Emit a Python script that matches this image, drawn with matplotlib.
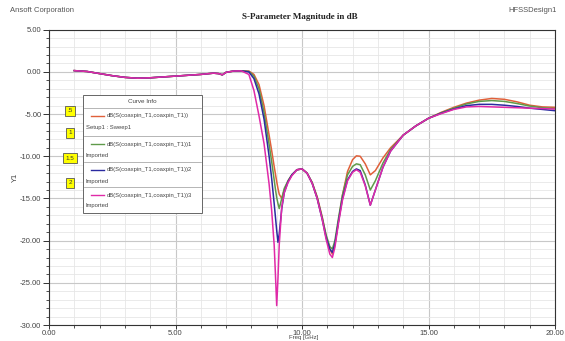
import matplotlib
matplotlib.use("Agg")
import matplotlib.pyplot as plt
from matplotlib.patches import Rectangle
from matplotlib.lines import Line2D
from matplotlib.ticker import MultipleLocator, FormatStrFormatter

plt.rcParams['font.family'] = ['Liberation Sans Narrow', 'Liberation Sans', 'DejaVu Sans']

# ---------------- data ----------------
freq_low = [1.0, 1.5, 2.0, 2.5, 3.0, 3.5, 4.0, 4.5, 5.0, 5.5, 6.0, 6.5, 6.7, 6.85, 7.0, 7.3, 7.6]
db_low = [0.15, 0.05, -0.2, -0.45, -0.65, -0.75, -0.7, -0.6, -0.5, -0.4, -0.3, -0.15, -0.2, -0.35, -0.05, 0.1, 0.12]

freq_high = [7.9, 8.1, 8.3, 8.5, 8.7, 8.8, 8.9, 8.95, 9.0, 9.05, 9.1, 9.2, 9.3, 9.45, 9.6, 9.8,
             10.0, 10.2, 10.4, 10.6, 10.8, 10.95, 11.1, 11.2, 11.3, 11.45, 11.6, 11.8, 12.0,
             12.15, 12.3, 12.5, 12.7, 12.9, 13.2, 13.5, 14.0, 14.5, 15.0, 15.5, 16.0, 16.5,
             17.0, 17.5, 18.0, 18.5, 19.0, 19.5, 20.0]

s_sweep = [0.1, -0.3, -1.5, -4.0, -7.5, -9.3, -11.2, -12.1, -13.0, -13.8, -14.5, -15.0, -14.0,
           -12.9, -12.2, -11.6, -11.5, -12.0, -13.1, -14.8, -17.2, -19.4, -21.0, -21.6, -20.5,
           -17.5, -14.6, -11.8, -10.4, -9.95, -10.0, -10.9, -12.2, -11.7, -10.2, -9.0, -7.5,
           -6.4, -5.5, -4.8, -4.2, -3.7, -3.35, -3.15, -3.25, -3.55, -3.95, -4.15, -4.2]
s_imp1 = [0.05, -0.5, -2.0, -4.8, -8.6, -10.6, -12.8, -13.9, -14.9, -15.6, -16.2, -15.0, -13.8,
          -12.9, -12.2, -11.6, -11.5, -12.0, -13.1, -14.9, -17.3, -19.3, -20.7, -21.0, -20.0,
          -17.2, -14.6, -12.2, -11.2, -10.9, -11.0, -12.2, -14.0, -12.9, -10.8, -9.2, -7.5,
          -6.4, -5.5, -4.85, -4.3, -3.8, -3.5, -3.4, -3.5, -3.75, -4.05, -4.25, -4.35]
s_imp2 = [0.0, -0.8, -2.6, -5.6, -10.0, -12.6, -15.6, -17.2, -18.8, -20.2, -19.2, -16.2, -14.3,
          -13.0, -12.2, -11.6, -11.5, -12.0, -13.2, -15.0, -17.5, -19.6, -21.0, -21.4, -20.4,
          -17.6, -15.0, -12.8, -11.8, -11.5, -11.7, -13.4, -15.8, -14.0, -11.3, -9.4, -7.5,
          -6.4, -5.5, -4.9, -4.4, -4.0, -3.85, -3.85, -3.95, -4.1, -4.3, -4.45, -4.6]
s_imp3 = [-0.3, -2.2, -5.2, -8.5, -13.3, -16.4, -20.5, -24.0, -27.7, -24.5, -20.5, -16.0, -14.3,
          -13.1, -12.3, -11.6, -11.5, -12.0, -13.2, -15.0, -17.5, -19.8, -21.6, -22.0, -20.8,
          -17.8, -15.2, -12.9, -11.9, -11.6, -11.9, -13.5, -15.8, -14.0, -11.3, -9.4, -7.5,
          -6.4, -5.5, -4.95, -4.45, -4.15, -4.1, -4.15, -4.2, -4.25, -4.3, -4.35, -4.4]

series_names = ["dB(S(coaxpin_T1,coaxpin_T1))", "dB(S(coaxpin_T1,coaxpin_T1))1",
                "dB(S(coaxpin_T1,coaxpin_T1))2", "dB(S(coaxpin_T1,coaxpin_T1))3"]
series_sub = ["Setup1 : Sweep1", "Imported", "Imported", "Imported"]
series_vals = [s_sweep, s_imp1, s_imp2, s_imp3]
series_colors = ["#e0603a", "#5f9a4a", "#2a2aa0", "#e02aa8"]
tag_labels = [".5", "1", "1.5", "2"]

# ---------------- figure ----------------
W, H = 565, 341
fig = plt.figure(figsize=(W / 100, H / 100), dpi=100)
fig.patch.set_facecolor("white")

def fx(px):
    return px / W

def fy(py):
    return 1 - py / H

ax = fig.add_axes([fx(49), fy(325), fx(555) - fx(49), fy(29.7) - fy(325)])
for name, vals, col in zip(series_names, series_vals, series_colors):
    ax.plot(freq_low + freq_high, db_low + vals, color=col, lw=1.1, zorder=3)

ax.set_xlim(0, 20)
ax.set_ylim(-30, 5)
ax.xaxis.set_major_locator(MultipleLocator(5))
ax.xaxis.set_minor_locator(MultipleLocator(1))
ax.yaxis.set_major_locator(MultipleLocator(5))
ax.yaxis.set_minor_locator(MultipleLocator(1))
ax.xaxis.set_major_formatter(FormatStrFormatter("%.2f"))
ax.yaxis.set_major_formatter(FormatStrFormatter("%.2f"))
ax.grid(which="major", color="#c8c8c8", lw=0.8)
ax.grid(which="minor", color="#e6e6e6", lw=0.6)
ax.set_axisbelow(True)
ax.tick_params(which="major", length=4, width=0.7, color="#333333", labelsize=5.5,
               labelcolor="#444444", pad=1.5)
ax.tick_params(axis="x", which="major", length=3, pad=0.5)
ax.tick_params(which="minor", length=2, width=0.6, color="#333333")
for sp in ax.spines.values():
    sp.set_color("#333333")
    sp.set_linewidth(0.8)

# header texts
fig.text(fx(10), fy(11), "Ansoft Corporation", fontsize=5.5, color="#555555", va="center", ha="left")
fig.text(fx(557), fy(11), "HFSSDesign1", fontsize=5.5, color="#555555", va="center", ha="right")
fig.text(fx(300), fy(17), "S-Parameter Magnitude in dB", fontsize=6.5, fontweight="bold",
         family=["Liberation Serif", "DejaVu Serif"], color="#222222", va="center", ha="center")
fig.text(fx(15), fy(177), "Y1", fontsize=5.5, color="#444444", rotation=90, va="center", ha="center")
fig.text(fx(304), fy(335.5), "Freq [GHz]", fontsize=4.3, color="#444444", va="top", ha="center")

# curve info box
bx0, bx1, by0, by1 = 83, 202, 95, 213
fig.patches.append(Rectangle((fx(bx0), fy(by1)), fx(bx1) - fx(bx0), fy(by0) - fy(by1),
                             transform=fig.transFigure, facecolor="white", edgecolor="#666666",
                             lw=0.7, zorder=5))
fig.text(fx((bx0 + bx1) / 2), fy(101.5), "Curve Info", fontsize=4.5, color="#444444",
         ha="center", va="center", zorder=6)
row_tops = [108, 136, 162, 187]
for i, (name, sub, col) in enumerate(zip(series_names, series_sub, series_colors)):
    top = row_tops[i]
    fig.lines.append(Line2D([fx(bx0 + 1), fx(bx1 - 1)], [fy(top), fy(top)], transform=fig.transFigure,
                            color="#999999", lw=0.5, zorder=6))
    fig.lines.append(Line2D([fx(91), fx(104)], [fy(top + 8), fy(top + 8)], transform=fig.transFigure,
                            color=col, lw=1.0, zorder=6))
    fig.text(fx(107), fy(top + 8), name, fontsize=4.2, color="#444444", ha="left", va="center", zorder=6)
    fig.text(fx(86), fy(top + 19), sub, fontsize=4.2, color="#444444", ha="left", va="center", zorder=6)

# yellow tags
tag_centers = [111, 133, 158, 183]
for lab, cy in zip(tag_labels, tag_centers):
    fig.text(fx(70), fy(cy), lab, fontsize=4.5, color="#333333", ha="center", va="center", zorder=7,
             bbox=dict(boxstyle="square,pad=0.35", facecolor="#ffff00", edgecolor="#555555", lw=0.6))

fig.savefig("out.png", dpi=100)
